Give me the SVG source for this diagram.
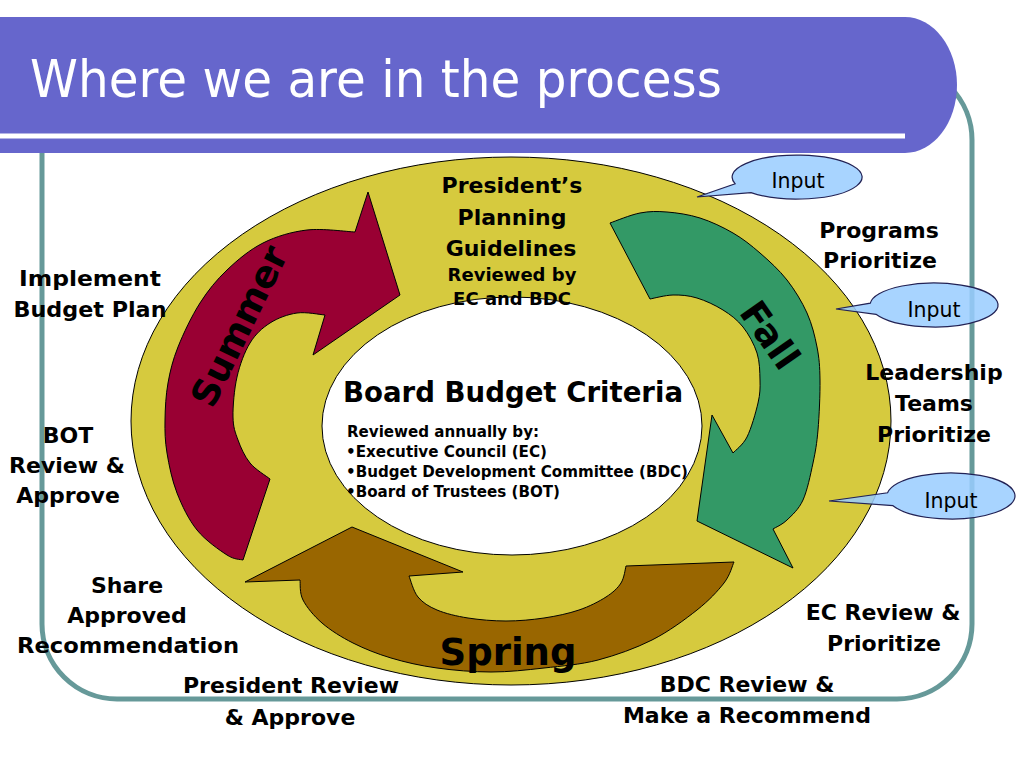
<svg xmlns="http://www.w3.org/2000/svg" width="1024" height="768" viewBox="0 0 1024 768">
<style>
.b{font-family:"DejaVu Sans",Verdana,sans-serif;font-weight:bold;fill:#000}
.l{font-size:22px;text-anchor:middle}
.m{font-size:18px;text-anchor:middle}
.s{font-size:15.5px}
.se{font-size:37px;text-anchor:middle}
.in{font-family:"DejaVu Sans",Verdana,sans-serif;font-size:21px;fill:#000;text-anchor:middle}
.arrow{stroke:#000;stroke-width:1;stroke-linejoin:miter}
.callout{fill:#99CCFF;fill-opacity:0.85;stroke:#222255;stroke-width:1.2}
</style>
<rect width="1024" height="768" fill="#fff"/>

<g id="cycle">
  <ellipse id="outer-ring" cx="511" cy="421" rx="380" ry="264" fill="#D6CA3E" stroke="#000" stroke-width="1"/>
  <ellipse id="center" cx="512" cy="426" rx="190" ry="129" fill="#fff" stroke="#000" stroke-width="1"/>
</g>

<g id="connectors">
  <path id="summer-arrow" class="arrow" fill="#990033" d="M243,560 C240.3,559.2 234.7,560 227,555 C219.3,550 205.3,540.3 197,530 C188.7,519.7 182,505.8 177,493 C172,480.2 169,465.2 167,453 C165,440.8 164.8,431.7 165,420 C165.2,408.3 165.8,395.2 168,383 C170.2,370.8 172.7,360.3 178,347 C183.3,333.7 191.8,315.8 200,303 C208.2,290.2 216.5,280 227,270 C237.5,260 249.7,249.7 263,243 C276.3,236.3 291.7,231.8 307,230 C322.3,228.2 347,231.7 355,232 L368,192 L400,295 L313,355 L325,315 C320.3,314.7 306.2,311.7 297,313 C287.8,314.3 277.8,318 270,323 C262.2,328 255.5,334 250,343 C244.5,352 239.8,364.7 237,377 C234.2,389.3 232.8,406.5 233,417 C233.2,427.5 235.2,432.3 238,440 C240.8,447.7 244.7,456.5 250,463 C255.3,469.5 266.7,476.3 270,479 Z"/>
  <path id="fall-arrow" class="arrow" fill="#339966" d="M610,223 C615,221.3 630.5,214.8 640,213 C649.5,211.2 657,211.2 667,212 C677,212.8 689,214.5 700,218 C711,221.5 723,227.2 733,233 C743,238.8 751,245.2 760,253 C769,260.8 779.2,270 787,280 C794.8,290 802,301.8 807,313 C812,324.2 814.8,335.8 817,347 C819.2,358.2 819.8,366.2 820,380 C820.2,393.8 819.2,416.2 818,430 C816.8,443.8 815.5,451.3 813,463 C810.5,474.7 807.3,490.5 803,500 C798.7,509.5 792,515.2 787,520 C782,524.8 775.3,527.5 773,529 L793,568 L697,521 L712,415 L733,453 C735.3,450.3 742.8,445.3 747,437 C751.2,428.7 755.8,412.5 758,403 C760.2,393.5 760.2,388.3 760,380 C759.8,371.7 759.8,361.8 757,353 C754.2,344.2 748.7,334.2 743,327 C737.3,319.8 730.7,314.8 723,310 C715.3,305.2 705.3,300.5 697,298 C688.7,295.5 680.8,294.8 673,295 C665.2,295.2 653.8,298.3 650,299 Z"/>
  <path id="spring-arrow" class="arrow" fill="#996600" d="M734,562 C732.3,565.5 730.2,575 724,583 C717.8,591 709,600.5 697,610 C685,619.5 668.5,631.7 652,640 C635.5,648.3 616,655.3 598,660 C580,664.7 561.8,666 544,668 C526.2,670 508.8,672 491,672 C473.2,672 453.7,670.3 437,668 C420.3,665.7 405,662.2 391,658 C377,653.8 364.5,648.8 353,643 C341.5,637.2 330.3,630.2 322,623 C313.7,615.8 306.7,607.2 303,600 C299.3,592.8 300.5,583.3 300,580 L245,582 L352,527 L463,572 L409,576 C410.5,579.5 413.3,591.3 418,597 C422.7,602.7 428.7,606.5 437,610 C445.3,613.5 456.5,616.2 468,618 C479.5,619.8 493.3,621 506,621 C518.7,621 531.8,619.8 544,618 C556.2,616.2 568.7,613.5 579,610 C589.3,606.5 599,601.5 606,597 C613,592.5 617.7,588.2 621,583 C624.3,577.8 625.2,568.8 626,566 Z"/>
</g>

<g id="frame">
  <rect x="42" y="65" width="930" height="634" rx="75" ry="75" fill="none" stroke="#669999" stroke-width="5"/>
</g>

<g id="callout-1">
  <path class="callout" d="M735.2,183.8 A65,22 0 1 1 751,192.6 L697,197 Z"/>
  <text class="in" x="798" y="188" textLength="53" lengthAdjust="spacingAndGlyphs">Input</text>
</g>
<g id="callout-2">
  <path class="callout" d="M870.3,303.1 A64,22 0 1 1 876,314.3 L836,309 Z"/>
  <text class="in" x="934" y="317" textLength="53" lengthAdjust="spacingAndGlyphs">Input</text>
</g>
<g id="callout-3">
  <path class="callout" d="M887.6,492.8 A64,23 0 1 1 893,505.7 L829,501 Z"/>
  <text class="in" x="951" y="508" textLength="53" lengthAdjust="spacingAndGlyphs">Input</text>
</g>

<g id="title">
  <path d="M0,17 H905 A52,68 0 0 1 905,153 H0 Z" fill="#6666CC"/>
  <line x1="0" y1="136" x2="905" y2="136" stroke="#fff" stroke-width="5"/>
  <text x="30" y="97" font-family="DejaVu Sans,Verdana,sans-serif" font-size="51" fill="#fff" textLength="692" lengthAdjust="spacingAndGlyphs">Where we are in the process</text>
</g>

<g id="guidelines">
  <text class="b l" x="512" y="193">President’s</text>
  <text class="b l" x="512" y="225">Planning</text>
  <text class="b l" x="511" y="256">Guidelines</text>
  <text class="b m" x="512" y="281">Reviewed by</text>
  <text class="b m" x="512" y="305">EC and BDC</text>
</g>

<g id="criteria">
  <text class="b" x="513" y="402" font-size="29" text-anchor="middle" textLength="340" lengthAdjust="spacingAndGlyphs">Board Budget Criteria</text>
  <text class="b s" x="347" y="437" textLength="192" lengthAdjust="spacingAndGlyphs">Reviewed annually by:</text>
  <text class="b s" x="346" y="457" textLength="201" lengthAdjust="spacingAndGlyphs">•Executive Council (EC)</text>
  <text class="b s" x="346" y="477" textLength="342" lengthAdjust="spacingAndGlyphs">•Budget Development Committee (BDC)</text>
  <text class="b s" x="346" y="497" textLength="214" lengthAdjust="spacingAndGlyphs">•Board of Trustees (BOT)</text>
</g>

<g id="seasons">
  <text class="b se" transform="translate(239,326) rotate(-64)" x="0" y="13">Summer</text>
  <text class="b se" transform="translate(770,335) rotate(55)" x="0" y="13" font-size="36">Fall</text>
  <text class="b se" x="508" y="665">Spring</text>
</g>

<g id="step-implement">
  <text class="b l" x="90" y="286" textLength="142" lengthAdjust="spacingAndGlyphs">Implement</text>
  <text class="b l" x="90" y="317" textLength="153" lengthAdjust="spacingAndGlyphs">Budget Plan</text>
</g>
<g id="step-bot">
  <text class="b l" x="68" y="443">BOT</text>
  <text class="b l" x="67" y="473">Review &amp;</text>
  <text class="b l" x="68" y="503">Approve</text>
</g>
<g id="step-share">
  <text class="b l" x="127" y="593">Share</text>
  <text class="b l" x="127" y="623">Approved</text>
  <text class="b l" x="128" y="653" textLength="222" lengthAdjust="spacingAndGlyphs">Recommendation</text>
</g>
<g id="step-president">
  <text class="b l" x="291" y="693">President Review</text>
  <text class="b l" x="290" y="725">&amp; Approve</text>
</g>
<g id="step-bdc">
  <text class="b l" x="747" y="692">BDC Review &amp;</text>
  <text class="b l" x="747" y="723">Make a Recommend</text>
</g>
<g id="step-ec">
  <text class="b l" x="883" y="620">EC Review &amp;</text>
  <text class="b l" x="884" y="651">Prioritize</text>
</g>
<g id="step-programs">
  <text class="b l" x="879" y="238">Programs</text>
  <text class="b l" x="880" y="268">Prioritize</text>
</g>
<g id="step-leadership">
  <text class="b l" x="934" y="380">Leadership</text>
  <text class="b l" x="934" y="411">Teams</text>
  <text class="b l" x="934" y="442">Prioritize</text>
</g>
</svg>
